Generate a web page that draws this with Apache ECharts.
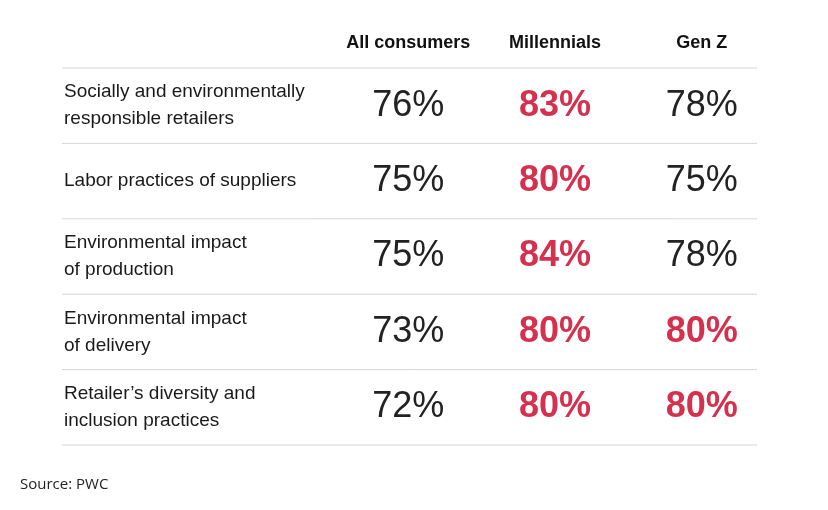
<!DOCTYPE html>
<html>
<head>
<meta charset="utf-8">
<script src="https://cdn.jsdelivr.net/npm/echarts@6/dist/echarts.min.js"></script>
<style>html,body{margin:0;background:#fff}#main{width:828px;height:510px}</style>
</head>
<body>
<div id="main"></div>
<script>
var groups = ['All consumers', 'Millennials', 'Gen Z'];
var topics = [
    'Socially and environmentally\nresponsible retailers',
    'Labor practices of suppliers',
    'Environmental impact\nof production',
    'Environmental impact\nof delivery',
    'Retailer\u2019s diversity and\ninclusion practices'
];
var allConsumers = [76, 75, 75, 73, 72];
var millennials = [83, 80, 84, 80, 80];
var genZ = [78, 75, 78, 80, 80];

var cols = [allConsumers, millennials, genZ];
var cells = [];
topics.forEach(function (t, r) {
    var rowMax = Math.max(allConsumers[r], millennials[r], genZ[r]);
    cols.forEach(function (arr, c) {
        cells.push({value: [c, r, arr[r]], hot: arr[r] === rowMax});
    });
});

var G = {left: 335, top: 68, width: 440, height: 377};
var rowH = G.height / topics.length;
var lines = [];
for (var i = 0; i <= topics.length; i++) {
    lines.push({
        type: 'line',
        shape: {x1: 62, y1: G.top + i * rowH, x2: 757, y2: G.top + i * rowH},
        style: {stroke: '#d6d6d6', lineWidth: 1}
    });
}
lines.push({
    type: 'text', left: 20, top: 477,
    style: {text: 'Source: PWC', font: '15px "Open Sans", sans-serif', fill: '#222'}
});

var chart = echarts.init(document.getElementById('main'));
chart.setOption({
    animation: false,
    grid: G,
    xAxis: {
        type: 'category', data: groups, position: 'top',
        axisLine: {show: false}, axisTick: {show: false},
        axisLabel: {interval: 0, margin: 16, color: '#111', fontWeight: 'bold', fontSize: 18, fontFamily: 'Liberation Sans, Arial, sans-serif'}
    },
    yAxis: {
        type: 'category', data: topics, inverse: true,
        axisLine: {show: false}, axisTick: {show: false},
        axisLabel: {interval: 0, align: 'left', margin: 271, color: '#1a1a1a', fontSize: 19, lineHeight: 27, fontFamily: 'Liberation Sans, Arial, sans-serif'}
    },
    series: [{
        type: 'scatter',
        symbolSize: 0,
        itemStyle: {opacity: 1},
        data: cells,
        label: {
            show: true, position: 'inside',
            fontFamily: 'Liberation Sans, Arial, sans-serif',
            formatter: function (p) { return (p.data.hot ? '{h|' : '{n|') + p.value[2] + '%}'; },
            rich: {
                n: {fontSize: 36, color: '#222', fontWeight: 'normal', fontFamily: 'Liberation Sans, Arial, sans-serif'},
                h: {fontSize: 36, color: '#d6304f', fontWeight: 'bold', fontFamily: 'Liberation Sans, Arial, sans-serif'}
            }
        }
    }],
    graphic: lines
});
</script>
</body>
</html>
